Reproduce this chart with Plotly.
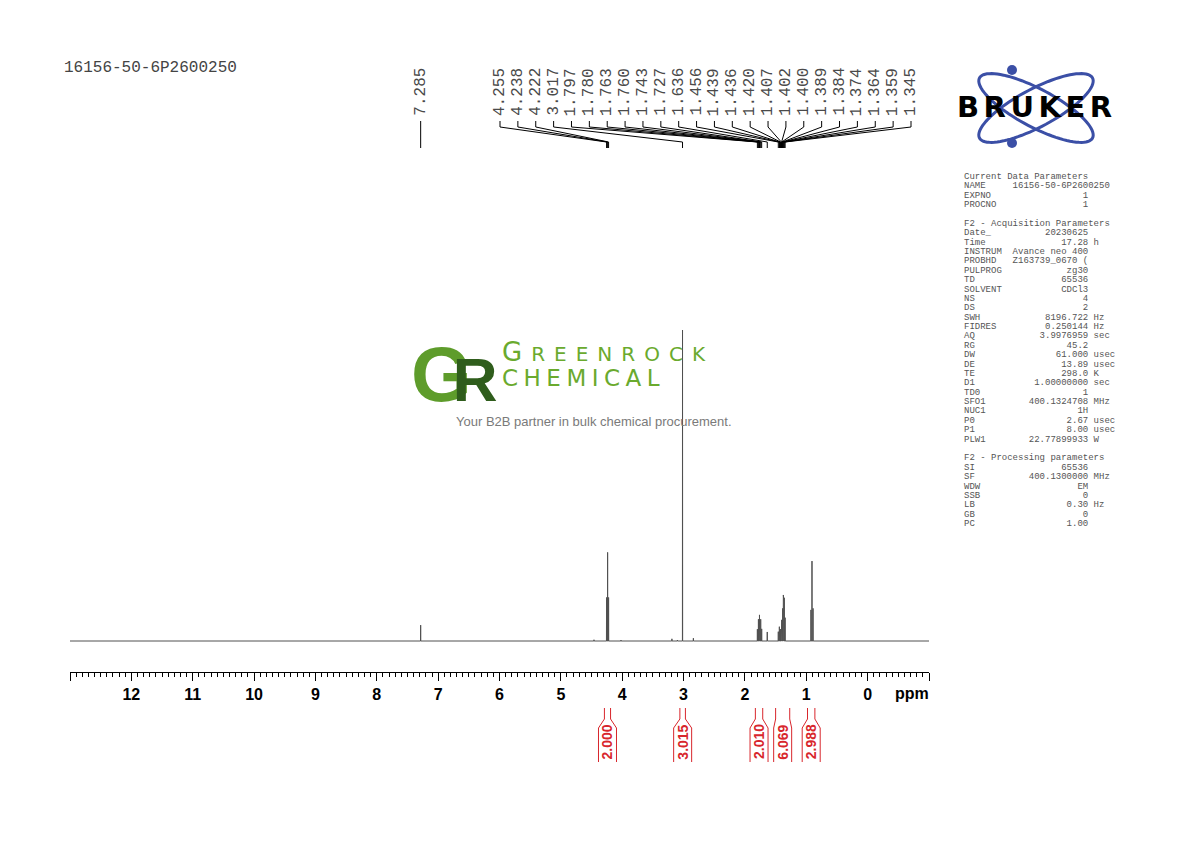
import numpy as np
import plotly.graph_objects as go

# ---- data ----
sample_name = "16156-50-6P2600250"

# peak positions (ppm) and heights (tallest = 100)
peak_ppm = [7.285,
            4.46, 4.255, 4.238, 4.222, 4.02,
            3.19, 3.10, 3.017, 2.84,
            1.797, 1.780, 1.763, 1.760, 1.743, 1.727,
            1.636,
            1.456, 1.439, 1.436, 1.420, 1.407,
            1.402, 1.400, 1.389, 1.384, 1.374, 1.364, 1.359, 1.345,
            0.924, 0.907, 0.890]
peak_height = [5.1,
               0.4, 14.0, 28.5, 14.0, 0.3,
               0.7, 0.3, 100.0, 0.9,
               3.8, 7.0, 8.4, 8.2, 7.0, 3.9,
               2.9,
               3.0, 4.6, 4.4, 3.8, 4.9,
               6.5, 6.8, 9.6, 10.5, 14.8, 12.6, 13.9, 7.5,
               10.0, 25.7, 10.5]

# picked peak labels
label_ppm = [7.285, 4.255, 4.238, 4.222, 3.017, 1.797, 1.780, 1.763, 1.760,
             1.743, 1.727, 1.636, 1.456, 1.439, 1.436, 1.420, 1.407, 1.402,
             1.400, 1.389, 1.384, 1.374, 1.364, 1.359, 1.345]

# integrals
integral_from = [4.29, 3.06, 1.83, 1.50, 0.98]
integral_to = [4.19, 2.97, 1.71, 1.27, 0.86]
integral_value = ["2.000", "3.015", "2.010", "6.069", "2.988"]

tick_values = list(range(13, -2, -1))
tick_text = ["" if v in (13, -1) else str(v) for v in tick_values]

param_lines = [
    ("Current Data Parameters",),
    ("NAME", "16156-50-6P2600250", ""),
    ("EXPNO", "1", ""),
    ("PROCNO", "1", ""),
    (),
    ("F2 - Acquisition Parameters",),
    ("Date_", "20230625", ""),
    ("Time", "17.28", "h"),
    ("INSTRUM", "Avance neo 400", ""),
    ("PROBHD", "Z163739_0670 (", ""),
    ("PULPROG", "zg30", ""),
    ("TD", "65536", ""),
    ("SOLVENT", "CDCl3", ""),
    ("NS", "4", ""),
    ("DS", "2", ""),
    ("SWH", "8196.722", "Hz"),
    ("FIDRES", "0.250144", "Hz"),
    ("AQ", "3.9976959", "sec"),
    ("RG", "45.2", ""),
    ("DW", "61.000", "usec"),
    ("DE", "13.89", "usec"),
    ("TE", "298.0", "K"),
    ("D1", "1.00000000", "sec"),
    ("TD0", "1", ""),
    ("SFO1", "400.1324708", "MHz"),
    ("NUC1", "1H", ""),
    ("P0", "2.67", "usec"),
    ("P1", "8.00", "usec"),
    ("PLW1", "22.77899933", "W"),
    (),
    ("F2 - Processing parameters",),
    ("SI", "65536", ""),
    ("SF", "400.1300000", "MHz"),
    ("WDW", "EM", ""),
    ("SSB", "0", ""),
    ("LB", "0.30", "Hz"),
    ("GB", "0", ""),
    ("PC", "1.00", ""),
]

# ---- page geometry (page pixels; the page body has an 8px margin) ----
PAD = 8
FW, FH = 1190 - 2 * PAD, 842 - 2 * PAD
AX_L, AX_R = 70, 929          # x axis ends
PPM_L, PPM_R = 13, -1
AX_Y = 672                    # axis line
SPEC_TOP = 320
BASE_Y = 641
RED = "#d8262c"
MONO = "Liberation Mono"


def fx(px):
    return (px - PAD) / FW


def fy(py):
    return 1 - (py - PAD) / FH


def px2ppm(px):
    return PPM_L + (px - AX_L) * (PPM_R - PPM_L) / (AX_R - AX_L)


def ppm2px(p):
    return AX_L + (PPM_L - p) * (AX_R - AX_L) / (PPM_L - PPM_R)


def note(x, y, text, font, xanchor="center", yanchor="middle", **kw):
    return dict(x=fx(x), y=fy(y), xref="paper", yref="paper", text=text,
                showarrow=False, font=font, xanchor=xanchor, yanchor=yanchor, **kw)


fig = go.Figure()

# spectrum drawn as narrow lines from the peak list
w = 0.002
order = np.argsort(peak_ppm)[::-1]
spec_x, spec_y = [PPM_L], [0]
for i in order:
    p, h = peak_ppm[i], peak_height[i]
    spec_x += [p + w, p, p - w]
    spec_y += [0, h, 0]
spec_x.append(PPM_R)
spec_y.append(0)
fig.add_trace(go.Scatter(x=spec_x, y=spec_y, mode="lines",
                         line=dict(color="#505050", width=1),
                         hoverinfo="skip", showlegend=False))

# peak label connectors (y2 is in page pixels)
slots = [ppm2px(label_ppm[0])] + list(np.linspace(500, 911, len(label_ppm) - 1))
cx, cy = [], []
for p, s in zip(label_ppm, slots):
    cx += [px2ppm(s), px2ppm(s), p, p, None]
    cy += [121, 127, 142, 148, None]
fig.add_trace(go.Scatter(x=cx, y=cy, yaxis="y2", mode="lines",
                         line=dict(color="black", width=1),
                         hoverinfo="skip", showlegend=False))

annotations = []
for p, s in zip(label_ppm, slots):
    annotations.append(dict(x=px2ppm(s), y=92, xref="x", yref="y2",
                            text=f"{p:.3f}", textangle=-90, showarrow=False,
                            font=dict(family=MONO, size=16, color="#4a4a4a"),
                            xanchor="center", yanchor="middle"))

# integrals
ix, iy = [], []
for a, b, v in zip(integral_from, integral_to, integral_value):
    lp, rp = ppm2px(a), ppm2px(b)
    c = (lp + rp) / 2
    hb = max((rp - lp) / 2, 9)
    ix += [px2ppm(lp), px2ppm(lp), px2ppm(c - hb), px2ppm(c - hb), None,
           px2ppm(rp), px2ppm(rp), px2ppm(c + hb), px2ppm(c + hb), None]
    iy += [708, 719, 728, 762, None, 708, 719, 728, 762, None]
    annotations.append(dict(x=px2ppm(c), y=742, xref="x", yref="y2", text=v,
                            textangle=-90, showarrow=False,
                            font=dict(family="Liberation Sans", size=14,
                                      color=RED, weight="bold"),
                            xanchor="center", yanchor="middle"))
fig.add_trace(go.Scatter(x=ix, y=iy, yaxis="y2", mode="lines",
                         line=dict(color=RED, width=1),
                         hoverinfo="skip", showlegend=False))

annotations.append(note(912, 693, "ppm",
                        dict(family="Liberation Sans", size=16, color="black",
                             weight="bold")))
annotations.append(note(62, 68, sample_name,
                        dict(family=MONO, size=16, color="#444444"),
                        xanchor="left"))

# parameter panel
for k, ln in enumerate(param_lines):
    if not ln:
        continue
    if len(ln) == 1:
        s = ln[0]
    else:
        s = f"{ln[0]:<9}{ln[1]:>14}" + (f" {ln[2]}" if ln[2] else "")
    annotations.append(note(962, 177 + k * 9.38, s.replace(" ", "&nbsp;"),
                            dict(family=MONO, size=9, color="#555555"),
                            xanchor="left"))

# Greenrock watermark
annotations += [
    note(409, 374,
         "<span style='color:#5e9c2b;letter-spacing:-19px'>G</span>"
         "<span style='color:#2f5d1c;font-size:62px'>R</span>",
         dict(family="Liberation Sans", size=78, color="#5e9c2b", weight="bold"),
         xanchor="left"),
    note(500, 352,
         "<span style='letter-spacing:9px'><span style='font-size:26px'>G</span>REENROCK</span>",
         dict(family="DejaVu Sans", size=20, color="#6aaa2e"), xanchor="left"),
    note(500, 378, "<span style='letter-spacing:5.5px'>CHEMICAL</span>",
         dict(family="DejaVu Sans", size=23, color="#6aaa2e"), xanchor="left"),
    note(594, 421, "Your B2B partner in bulk chemical procurement.",
         dict(family="Liberation Sans", size=13, color="#7a7a7a")),
]

# Bruker logo
shapes = []
t = np.linspace(0, 2 * np.pi, 90)
for ang in (np.radians(28), np.radians(-28)):
    ex = 1036 + 64 * np.cos(t) * np.cos(ang) - 19 * np.sin(t) * np.sin(ang)
    ey = 108 + 64 * np.cos(t) * np.sin(ang) + 19 * np.sin(t) * np.cos(ang)
    path = "M " + " L ".join(f"{fx(x):.5f},{fy(y):.5f}" for x, y in zip(ex, ey)) + " Z"
    shapes.append(dict(type="path", path=path, xref="paper", yref="paper",
                       line=dict(color="#3b4fa6", width=3)))
for cxp, cyp in ((1012, 70), (1012, 143)):
    shapes.append(dict(type="circle", xref="paper", yref="paper",
                       x0=fx(cxp - 5), x1=fx(cxp + 5),
                       y0=fy(cyp + 5), y1=fy(cyp - 5),
                       fillcolor="#3b4fa6", line=dict(width=0)))
annotations.append(note(1037, 107,
                        "<span style='letter-spacing:4.5px'>BRUKER</span>",
                        dict(family="DejaVu Sans", size=29, color="black",
                             weight="bold")))

px_per_unit = (BASE_Y - 330) / 100.0
fig.update_layout(
    width=FW, height=FH, autosize=False,
    margin=dict(l=0, r=0, t=0, b=0),
    paper_bgcolor="white", plot_bgcolor="rgba(0,0,0,0)",
    showlegend=False,
    xaxis=dict(domain=[fx(AX_L), fx(AX_R)], range=[PPM_L, PPM_R],
               anchor="y", showgrid=False, zeroline=False,
               showline=True, linecolor="black", linewidth=1,
               tickmode="array", tickvals=tick_values, ticktext=tick_text,
               ticks="outside", ticklen=8, tickwidth=1, tickcolor="black",
               ticklabelstandoff=0,
               minor=dict(dtick=0.1, tick0=0, ticks="outside", ticklen=4,
                          tickwidth=1, tickcolor="black", showgrid=False),
               tickfont=dict(family="Liberation Sans", size=16, color="black",
                             weight="bold")),
    yaxis=dict(domain=[fy(AX_Y), fy(SPEC_TOP)], anchor="x",
               range=[-(AX_Y - BASE_Y) / px_per_unit,
                      (BASE_Y - SPEC_TOP) / px_per_unit],
               visible=False, showgrid=False, zeroline=False),
    yaxis2=dict(domain=[0, 1], anchor="x", range=[FH + PAD, PAD],
                visible=False, showgrid=False, zeroline=False),
    annotations=annotations,
    shapes=shapes,
)

fig.write_html("out.html")
